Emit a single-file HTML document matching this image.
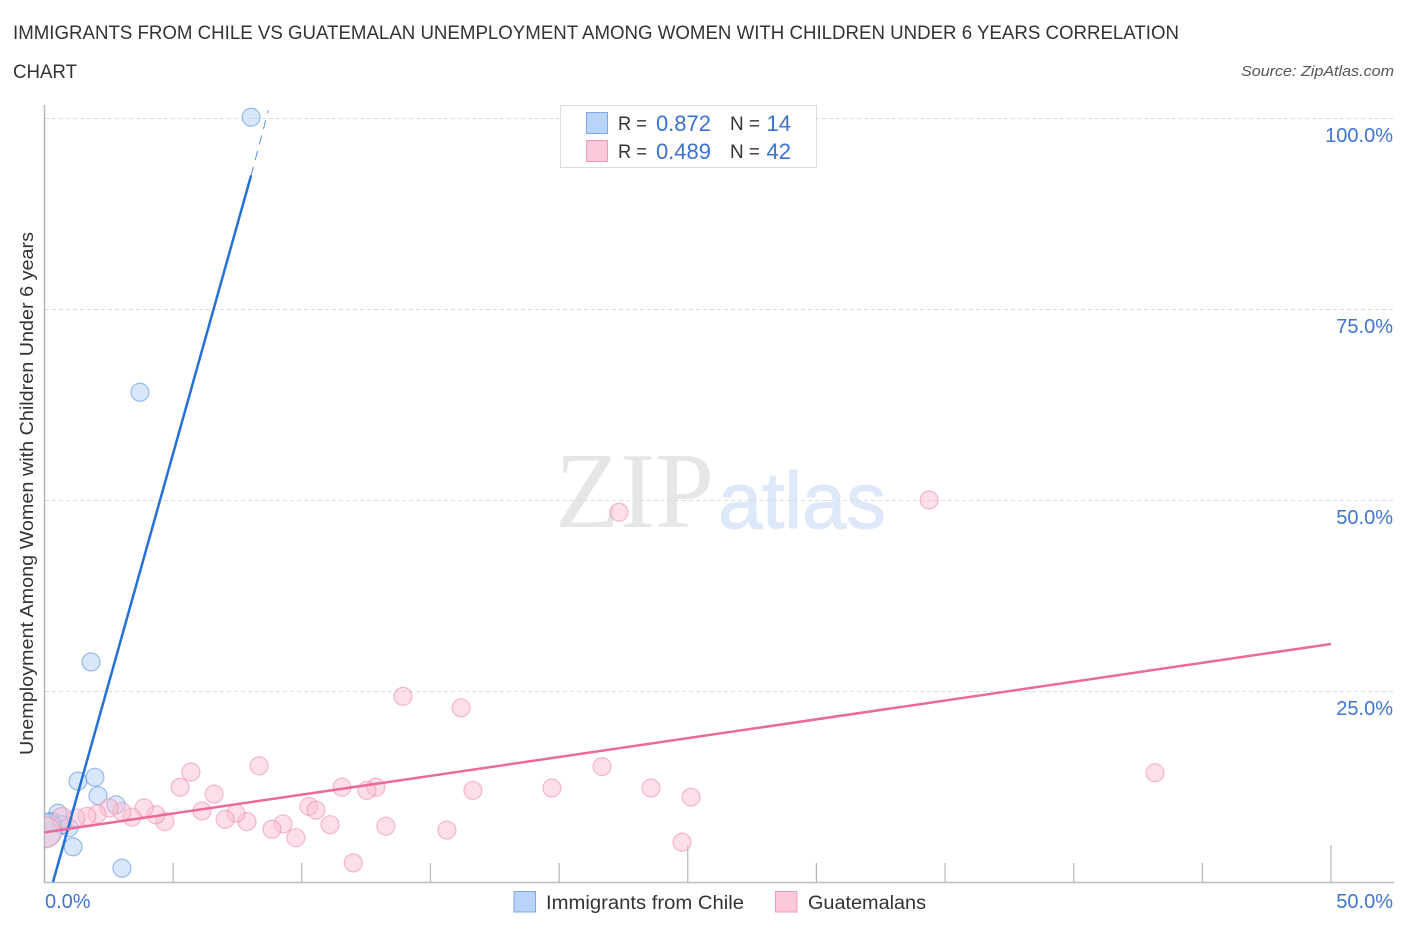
<!DOCTYPE html>
<html lang="en">
<head>
<meta charset="utf-8">
<title>Immigrants from Chile vs Guatemalan Unemployment Correlation Chart</title>
<style>
html,body{margin:0;padding:0;background:#fff;}
svg{display:block;font-family:"Liberation Sans",sans-serif;}
</style>
</head>
<body>
<svg id="chart" width="1406" height="930" viewBox="0 0 1406 930" xmlns="http://www.w3.org/2000/svg">
  <defs><clipPath id="plot-clip"><rect x="45" y="90" width="1361" height="792"/></clipPath></defs>
  <text x="13" y="39" font-size="19" fill="#333" textLength="1166" lengthAdjust="spacingAndGlyphs">IMMIGRANTS FROM CHILE VS GUATEMALAN UNEMPLOYMENT AMONG WOMEN WITH CHILDREN UNDER 6 YEARS CORRELATION</text>
  <text x="13" y="78" font-size="19" fill="#333" textLength="64" lengthAdjust="spacingAndGlyphs">CHART</text>
  <text x="1241" y="76" font-size="15" font-style="italic" fill="#555" textLength="153" lengthAdjust="spacingAndGlyphs">Source: ZipAtlas.com</text>
  <g>
    <text x="555" y="527" font-family="'Liberation Serif',serif" font-size="108" fill="#e6e6e6" textLength="159" lengthAdjust="spacingAndGlyphs">ZIP</text>
    <text x="718" y="528" font-size="80" fill="#dde8f8" stroke="#dde8f8" stroke-width="1" textLength="168" lengthAdjust="spacingAndGlyphs">atlas</text>
  </g>
  <g id="grid"></g>
  <g id="axes"></g>
  <g id="points" clip-path="url(#plot-clip)"></g>
  <g id="lines"></g>
  <g id="labels"></g>
  <text transform="translate(33,755) rotate(-90)" font-size="18" fill="#333" textLength="523" lengthAdjust="spacingAndGlyphs">Unemployment Among Women with Children Under 6 years</text>

  <g>
    <rect x="560.5" y="105.5" width="256" height="62" fill="#fff" stroke="#dcdcdc"/>
    <rect x="586.5" y="112.5" width="21" height="21" fill="#b9d4f8" stroke="#7ea9e6"/>
    <rect x="586.5" y="140.5" width="21" height="21" fill="#fcc9d8" stroke="#f09cb5"/>
    <g font-size="19" fill="#333">
      <text x="618" y="130" textLength="29" lengthAdjust="spacingAndGlyphs">R =</text>
      <text x="730" y="130" textLength="30" lengthAdjust="spacingAndGlyphs">N =</text>
      <text x="618" y="158" textLength="29" lengthAdjust="spacingAndGlyphs">R =</text>
      <text x="730" y="158" textLength="30" lengthAdjust="spacingAndGlyphs">N =</text>
    </g>
    <g font-size="22" fill="#3b72d2">
      <text x="711" y="131" text-anchor="end">0.872</text>
      <text x="791" y="131" text-anchor="end">14</text>
      <text x="711" y="159" text-anchor="end">0.489</text>
      <text x="791" y="159" text-anchor="end">42</text>
    </g>
  </g>

  <g>
    <rect x="514" y="891.5" width="21.5" height="20.5" fill="#b9d4f8" stroke="#7ea9e6"/>
    <text x="546" y="909" font-size="19" fill="#333" textLength="198" lengthAdjust="spacingAndGlyphs">Immigrants from Chile</text>
    <rect x="775.5" y="891.5" width="21.5" height="20.5" fill="#fcc9d8" stroke="#f09cb5"/>
    <text x="808" y="909" font-size="19" fill="#333" textLength="118" lengthAdjust="spacingAndGlyphs">Guatemalans</text>
  </g>
</svg>
<script>
const chileX = [8.03,3.71,1.81,1.30,1.96,2.08,2.78,3.01,1.11,0.95,0.52,0.29,0.68,0.02];
const chileY = [100.1,64.1,28.8,13.2,13.7,11.3,10.1,1.8,4.6,7.1,9.0,7.9,7.5,6.8];
const chileWeight = [1,1,1,1,1,1,1,1,1,1,1,1,1,3.6];
const guatemalaX = [22.33,34.38,43.16,13.93,16.19,8.34,5.69,5.27,6.59,11.56,12.88,12.53,10.28,10.55,16.65,19.72,21.67,23.57,25.13,24.78,15.64,13.27,11.10,12.0,9.77,9.27,8.84,7.87,7.44,7.02,6.12,4.68,4.33,3.87,3.40,3.01,2.51,2.04,1.65,1.22,0.68,0.02];
const guatemalaY = [48.4,50.0,14.3,24.3,22.8,15.2,14.4,12.4,11.5,12.4,12.4,12.0,9.9,9.4,12.0,12.3,15.1,12.3,11.1,5.2,6.8,7.3,7.5,2.5,5.8,7.6,6.9,7.9,9.0,8.2,9.3,7.9,8.8,9.7,8.5,9.2,9.7,8.9,8.6,8.4,8.4,6.5];
const guatemalaWeight = [1,1,1,1,1,1,1,1,1,1,1,1,1,1,1,1,1,1,1,1,1,1,1,1,1,1,1,1,1,1,1,1,1,1,1,1,1,1,1,1,1.3,3];
const chileTrendX = [0.33,8.03];
const chileTrendY = [0,92.5];
const chileDashX = [8.03,8.70];
const chileDashY = [92.5,101];
const guatemalaTrendX = [0,50];
const guatemalaTrendY = [6.5,31.15];
const yTickValues = [100,75,50,25];
const yTickLabels = ["100.0%","75.0%","50.0%","25.0%"];
const xTickValues = [0,5,10,15,20,25,30,35,40,45,50];
const xMajorTicks = [0,25,50];
const xEndLabels = ["0.0%","50.0%"];

const NS = "http://www.w3.org/2000/svg";
function xScale(v){ return 44.5 + v * 25.73; }
function yScale(v){ return 882 - v * 7.64; }
function rScale(w){ return 9 * Math.sqrt(w); }
function make(tag, parent, attrs){
  const el = document.createElementNS(NS, tag);
  for (const k in attrs) el.setAttribute(k, attrs[k]);
  document.getElementById(parent).appendChild(el);
  return el;
}

yTickValues.forEach(function(v){
  const gy = Math.round(yScale(v)) + 0.5;
  const el = make("line", "grid", {x1:45, x2:1393, y1:gy, y2:gy, stroke:"#dcdcdc", "stroke-width":1, "stroke-dasharray":"4 3"});
  
  
});

const yAxis = make("line", "axes", {x1:44.5, x2:44.5, y1:105, y2:883, stroke:"#b5b5b5", "stroke-width":1.5});


const xAxis = make("line", "axes", {x1:44, x2:1394, y1:882.5, y2:882.5, stroke:"#bdbdbd", "stroke-width":1.5});


xTickValues.forEach(function(v){
  const top = xMajorTicks.indexOf(v) >= 0 ? 845 : 863;
  const el = make("line", "axes", {x1:xScale(v), x2:xScale(v), y1:top, y2:882, stroke:"#b5b5b5", "stroke-width":1.2});
  
  
});

function drawPoints(xs, ys, ws, fill, stroke, name){
  xs.forEach(function(x, i){
    const el = make("circle", "points", {cx:xScale(x), cy:yScale(ys[i]), r:rScale(ws[i]), fill:fill, "fill-opacity":0.5, stroke:stroke, "stroke-opacity":0.6, "stroke-width":1.2});
    
    
  });
}
drawPoints(chileX, chileY, chileWeight, "#b3cff5", "#5f95e0", "point-chile");
drawPoints(guatemalaX, guatemalaY, guatemalaWeight, "#f9c0d2", "#ee8fab", "point-guatemalans");

const chileLine = make("line", "lines", {x1:xScale(chileTrendX[0]), y1:yScale(chileTrendY[0]), x2:xScale(chileTrendX[1]), y2:yScale(chileTrendY[1]), stroke:"#2471d8", "stroke-width":2.5});


const chileDash = make("line", "lines", {x1:xScale(chileDashX[0]), y1:yScale(chileDashY[0]), x2:xScale(chileDashX[1]), y2:yScale(chileDashY[1]), stroke:"#2471d8", "stroke-width":0.9, "stroke-opacity":0.85, "stroke-dasharray":"9 7"});


const pinkLine = make("line", "lines", {x1:xScale(guatemalaTrendX[0]), y1:yScale(guatemalaTrendY[0]), x2:xScale(guatemalaTrendX[1]), y2:yScale(guatemalaTrendY[1]), stroke:"#ec6a98", "stroke-width":2.5});



yTickValues.forEach(function(v, i){
  const el = make("text", "labels", {x:1393, y:yScale(v) + 24, "font-size":20, fill:"#3f74d2", "text-anchor":"end"});
  el.textContent = yTickLabels[i];
  
  
});
const xStart = make("text", "labels", {x:45, y:908, "font-size":20, fill:"#3f74d2"});
xStart.textContent = xEndLabels[0];


const xEnd = make("text", "labels", {x:1393, y:908, "font-size":20, fill:"#3f74d2", "text-anchor":"end"});
xEnd.textContent = xEndLabels[1];


</script>
</body>
</html>
